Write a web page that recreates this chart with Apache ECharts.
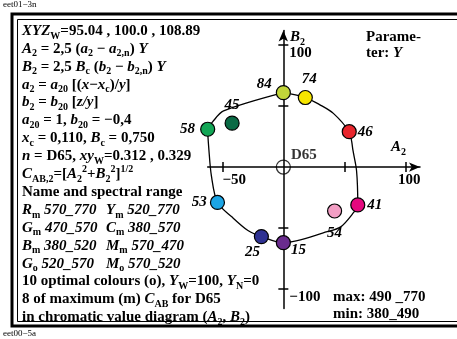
<!DOCTYPE html>
<html>
<head>
<meta charset="utf-8">
<script src="https://cdn.jsdelivr.net/npm/echarts@6/dist/echarts.min.js"></script>
<style>
  html, body { margin: 0; padding: 0; background: #fff; }
  #main { width: 457px; height: 339px; }
</style>
</head>
<body>
<div id="main"></div>
<script>
// Werte (A2, B2), Parameter Y als Beschriftung
const pointY = [84, 74, 46, 41, 15, 25, 53, 58, 45, 54];
const pointA = [0, 18, 54, 61, 0, -18, -54, -62, -42, 42];
const pointB = [61, 57, 29, -31, -62, -57, -29, 31, 36, -36];

// Randkurve der maximalen Farben
const curveA = [0, -49, -58, -62, -61, -59, -54, -42, -29, -18, 0, 36, 47, 57, 61, 60, 57, 56, 54, 41, 30, 18, 0];
const curveB = [61, 46, 37, 31, 14, -7, -29, -41, -52, -57, -62, -53, -49, -38, -31, -3, 14, 21, 29, 44, 51, 57, 61];

const xTicks = [-50, 50, 100];
const xLabels = [-50, 100];
const yTicks = [-100, -50, 50, 100];
const yLabels = [-100, 100];

const pointColors = ['#c1d53a', '#f6e500', '#e8262d', '#e4087e', '#6a2c8e', '#2e3192', '#1ca5e5', '#13a656', '#0a6a45', '#f29ec4'];

// Lage der Zahlen an den Kreisen
const labelPlace = {
  84: { position: 'left', distance: 4, offset: [0, -9] },
  74: { position: 'top', distance: 3, offset: [4, 0] },
  46: { position: 'right', distance: 1 },
  41: { position: 'right', distance: 2 },
  15: { position: 'right', distance: 0, offset: [0, 7] },
  25: { position: 'bottom', distance: 0, offset: [-9, 0] },
  53: { position: 'left', distance: 3 },
  58: { position: 'left', distance: 5 },
  45: { position: 'top', distance: 3 },
  54: { position: 'bottom', distance: 7 }
};

const F = 'Liberation Serif';
const FS = 15;
const rich = {
  b: { fontFamily: F, fontWeight: 'bold', fontSize: FS, lineHeight: 20, color: '#000' },
  i: { fontFamily: F, fontWeight: 'bold', fontStyle: 'italic', fontSize: FS, lineHeight: 20, color: '#000' },
  s: { fontFamily: F, fontWeight: 'bold', fontSize: 10, lineHeight: 10, verticalAlign: 'bottom', color: '#000' },
  p: { fontFamily: F, fontWeight: 'bold', fontSize: 10, lineHeight: 10, verticalAlign: 'top', color: '#000' },
  r: { fontFamily: F, fontWeight: 'bold', fontSize: FS, lineHeight: 20, color: '#ff0000' },
  ri: { fontFamily: F, fontWeight: 'bold', fontStyle: 'italic', fontSize: FS, lineHeight: 20, color: '#ff0000' },
  rs: { fontFamily: F, fontWeight: 'bold', fontSize: 10, lineHeight: 10, verticalAlign: 'bottom', color: '#ff0000' }
};

const leftLines = [
  '{i|XYZ}{s|W}{b|=95.04 , 100.0 , 108.89}',
  '{i|A}{s|2}{b| = 2,5 (}{i|a}{s|2}{b| − }{i|a}{s|2,n}{b|) }{i|Y}',
  '{i|B}{s|2}{b| = 2,5 }{ri|B}{rs|c}{b| (}{i|b}{s|2}{b| − }{i|b}{s|2,n}{b|) }{i|Y}',
  '{i|a}{s|2}{b| = }{i|a}{s|20}{b| [(}{i|x}{b|−}{i|x}{s|c}{b|)/}{i|y}{b|]}',
  '{i|b}{s|2}{b| = }{i|b}{s|20}{b| [}{i|z/y}{b|]}',
  '{i|a}{s|20}{b| = 1, }{i|b}{s|20}{b| = −0,4}',
  '{i|x}{s|c}{b| = 0,110, }{ri|B}{rs|c}{r| = 0,750}',
  '{i|n}{b| = D65, }{i|xy}{s|W}{b|=0.312 , 0.329}',
  '{i|C}{s|AB,2}{b|=[}{i|A}{s|2}{p|2}{b|+}{i|B}{s|2}{p|2}{b|]}{p|1/2}',
  '{b|Name and spectral range}',
  ['{i|R}{s|m}{i| 570_770}', '{i|Y}{s|m}{i| 520_770}'],
  ['{i|G}{s|m}{i| 470_570}', '{i|C}{s|m}{i| 380_570}'],
  ['{i|B}{s|m}{i| 380_520}', '{i|M}{s|m}{i| 570_470}'],
  ['{i|G}{s|o}{i| 520_570}', '{i|M}{s|o}{i| 570_520}'],
  '{b|10 optimal colours (o), }{i|Y}{s|W}{b|=100, }{i|Y}{s|N}{b|=0}',
  '{b|8 of maximum (m) }{i|C}{s|AB}{b| for D65}',
  '{b|in chromatic value diagram (}{i|A}{s|2}{b|, }{i|B}{s|2}{b|)}'
];

function txt(x, y, text, align) {
  return {
    type: 'text', z: 10, x: x, y: y,
    style: { text: text, rich: rich, align: align || 'left', verticalAlign: 'middle',
             textAlign: align || 'left', textVerticalAlign: 'middle' }
  };
}

const graphics = [
  { type: 'rect', z: 5, shape: { x: 12, y: 14, width: 460, height: 312 },
    style: { fill: 'none', stroke: '#000', lineWidth: 3 } },
  { type: 'rect', z: 5, shape: { x: 17.5, y: 19.5, width: 460, height: 302 },
    style: { fill: 'none', stroke: '#000', lineWidth: 1 } },
  { type: 'text', z: 10, x: 3, y: 5,
    style: { text: 'eet01−3n', font: '9px "Liberation Serif"', fill: '#000', verticalAlign: 'middle', textVerticalAlign: 'middle' } },
  { type: 'text', z: 10, x: 3, y: 334,
    style: { text: 'eet00−5a', font: '9px "Liberation Serif"', fill: '#000', verticalAlign: 'middle', textVerticalAlign: 'middle' } },
  txt(366, 37, '{b|Parame-}'),
  txt(366, 53, '{b|ter: }{i|Y}'),
  txt(290, 37, '{i|B}{s|2}'),
  txt(391, 147, '{i|A}{s|2}'),
  txt(333, 297, '{b|max: 490 _770}'),
  txt(333, 314, '{b|min: 380_490}')
];

leftLines.forEach(function (line, k) {
  const y = 31 + k * 17.9;
  if (Array.isArray(line)) {
    graphics.push(txt(22, y, line[0]));
    graphics.push(txt(106, y, line[1]));
  } else {
    graphics.push(txt(22, y, line));
  }
});

// Achsen liegen im Nullpunkt: Verschiebung aus dem Gitter berechnet
const gridBox = { left: 207.7, top: 30.4, width: 212.3, height: 278.2 };
const xMin = -62, xMax = 112, yMin = -116, yMax = 112;
const zeroX = gridBox.left + (0 - xMin) / (xMax - xMin) * gridBox.width;
const zeroY = gridBox.top + (yMax - 0) / (yMax - yMin) * gridBox.height;
const xOff = zeroY - (gridBox.top + gridBox.height);   // nach oben (negativ)
const yOffR = zeroX - (gridBox.left + gridBox.width);  // nach links (negativ)
const yOffL = gridBox.left - zeroX;                    // nach rechts (negativ)
const xOffT = gridBox.top - zeroY;                     // nach unten (negativ)

const axisLineStyle = { color: '#000', width: 1.5 };
const labelFont = { fontFamily: F, fontWeight: 'bold', fontSize: FS, color: '#000' };

const chart = echarts.init(document.getElementById('main'));
chart.setOption({
  animation: false,
  backgroundColor: '#fff',
  grid: gridBox,
  xAxis: [
    {
      type: 'value', min: xMin, max: xMax, position: 'bottom', offset: xOff,
      axisLine: { onZero: false, lineStyle: axisLineStyle, symbol: ['none', 'arrow'], symbolSize: [7, 11] },
      axisTick: { customValues: xTicks, length: 5, lineStyle: axisLineStyle },
      axisLabel: {
        customValues: xLabels, margin: 6,
        formatter: function (v) { return v < 0 ? '{l|−' + (-v) + '}' : '{r|' + v + '}'; },
        rich: { l: Object.assign({ padding: [0, 0, 0, 24] }, labelFont), r: Object.assign({ padding: [0, 0, 0, 8] }, labelFont) }
      },
      splitLine: { show: false }
    },
    {
      type: 'value', min: xMin, max: xMax, position: 'top', offset: xOffT,
      axisLine: { show: false, onZero: false },
      axisTick: { customValues: xTicks, length: 5, lineStyle: axisLineStyle },
      axisLabel: { show: false },
      splitLine: { show: false }
    }
  ],
  yAxis: [
    {
      type: 'value', min: yMin, max: yMax, position: 'right', offset: yOffR,
      axisLine: { onZero: false, lineStyle: axisLineStyle, symbol: ['none', 'arrow'], symbolSize: [7, 11] },
      axisTick: { customValues: yTicks, length: 5, lineStyle: axisLineStyle },
      axisLabel: {
        customValues: yLabels, margin: 6,
        formatter: function (v) { return '{n|' + (v < 0 ? '−' + (-v) : v) + '}'; },
        rich: { n: Object.assign({ padding: [16, 0, 0, 0] }, labelFont) }
      },
      splitLine: { show: false }
    },
    {
      type: 'value', min: yMin, max: yMax, position: 'left', offset: yOffL,
      axisLine: { show: false, onZero: false },
      axisTick: { customValues: yTicks, length: 5, lineStyle: axisLineStyle },
      axisLabel: { show: false },
      splitLine: { show: false }
    }
  ],
  series: [
    {
      type: 'line', smooth: 0.3, showSymbol: false, z: 2,
      lineStyle: { color: '#000', width: 1.3 },
      data: curveA.map(function (a, i) { return [a, curveB[i]]; })
    },
    {
      type: 'scatter', symbol: 'circle', symbolSize: 14, z: 3,
      itemStyle: { color: 'rgba(0,0,0,0)', borderColor: '#000', borderWidth: 1.3 },
      label: { show: true, position: 'right', distance: 0, offset: [0, -12], formatter: 'D65',
               fontFamily: F, fontWeight: 'bold', fontSize: FS, color: '#000' },
      data: [[0, 0]]
    },
    {
      type: 'scatter', symbol: 'circle', symbolSize: 14, z: 4,
      itemStyle: { borderColor: '#000', borderWidth: 1.2, opacity: 1 },
      label: { show: true, fontFamily: F, fontWeight: 'bold', fontStyle: 'italic', fontSize: FS, color: '#000',
               formatter: function (p) { return p.value[2]; } },
      data: pointY.map(function (y, i) {
        return {
          value: [pointA[i], pointB[i], y],
          itemStyle: { color: pointColors[i] },
          label: labelPlace[y]
        };
      })
    }
  ],
  graphic: graphics
});
</script>
</body>
</html>
